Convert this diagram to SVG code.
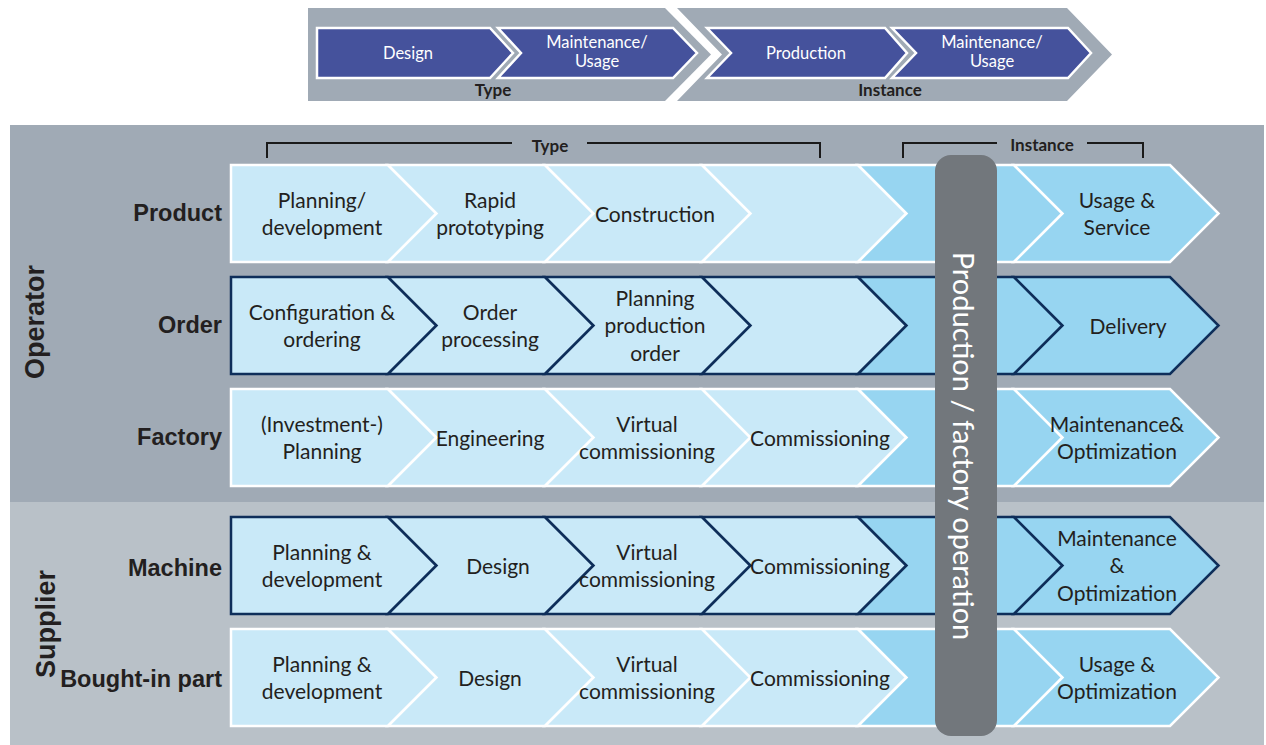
<svg xmlns="http://www.w3.org/2000/svg" width="1266" height="745" viewBox="0 0 1266 745">
<style>
.bg1{fill:#a0aab5}
.bg2{fill:#b9c1c8}
.top{fill:#45529c;stroke:#ffffff;stroke-width:2.5}
.wt{font-family:Lato,"Open Sans",sans-serif;font-size:16.5px;fill:#ffffff;text-anchor:middle}
.bl{font-family:Lato,"Open Sans",sans-serif;font-size:17px;font-weight:bold;fill:#231f20;text-anchor:middle}
.lt{fill:#c9e9f8}
.dk{fill:#97d5f1}
.ow{stroke:#ffffff;stroke-width:2.5;stroke-linejoin:miter}
.on{stroke:#0e2e5a;stroke-width:2.5;stroke-linejoin:miter}
.tx{font-family:Lato,"Open Sans",sans-serif;font-size:21px;fill:#231f20;text-anchor:middle}
.rl{font-family:"Liberation Sans",Arial,sans-serif;font-size:23.5px;font-weight:bold;fill:#231f20;text-anchor:end}
.gl{font-family:"Liberation Sans",Arial,sans-serif;font-size:27px;font-weight:bold;fill:#231f20;text-anchor:middle}
.br{fill:none;stroke:#1a1a1a;stroke-width:2}
</style>
<defs>
<path id="s1" d="M231,0 H388 L436.5,48.5 L388,97 H231 Z"/>
<path id="s2" d="M388,0 H545 L593.5,48.5 L545,97 H388 L436.5,48.5 Z"/>
<path id="s3" d="M545,0 H702 L750.5,48.5 L702,97 H545 L593.5,48.5 Z"/>
<path id="s4" d="M702,0 H858 L906.5,48.5 L858,97 H702 L750.5,48.5 Z"/>
<path id="s5" d="M858,0 H1014 L1062.5,48.5 L1014,97 H858 L906.5,48.5 Z"/>
<path id="s6" d="M1014,0 H1170 L1218.5,48.5 L1170,97 H1014 L1062.5,48.5 Z"/>
</defs>

<g id="banner">
<path class="bg1" d="M308,8 H665 L711,54.5 L665,101 H308 Z"/>
<path class="bg1" d="M677,8 H1067 L1112,54.5 L1067,101 H677 L722,54.5 Z"/>
<path class="top" d="M317,28 H490 L513,53 L490,78 H317 Z"/>
<path class="top" d="M498,28 H673 L697,53 L673,78 H498 L521,53 Z"/>
<path class="top" d="M707,28 H885 L907,53 L885,78 H707 L731,53 Z"/>
<path class="top" d="M892,28 H1068 L1091,53 L1068,78 H892 L916,53 Z"/>
<text class="wt" x="408" y="59">Design</text>
<text class="wt" x="597" y="48">Maintenance/</text>
<text class="wt" x="597" y="67">Usage</text>
<text class="wt" x="806" y="59">Production</text>
<text class="wt" x="992" y="48">Maintenance/</text>
<text class="wt" x="992" y="67">Usage</text>
<text class="bl" x="493" y="96">Type</text>
<text class="bl" x="890" y="96">Instance</text>
</g>

<g id="panels">
<rect class="bg1" x="10" y="125" width="1254" height="377"/>
<rect class="bg2" x="10" y="502" width="1254" height="243"/>
<text class="gl" transform="translate(44,322) rotate(-90)">Operator</text>
<text class="gl" transform="translate(55,624) rotate(-90)">Supplier</text>
</g>

<g id="brackets">
<path class="br" d="M267,158 V143 H512 M587,143 H820 V158"/>
<text class="bl" x="550" y="152">Type</text>
<path class="br" d="M903,158 V143 H997 M1087,143 H1143 V158"/>
<text class="bl" x="1042" y="151">Instance</text>
</g>

<g id="row-product" transform="translate(0,165)">
<use href="#s1" class="lt ow"/><use href="#s2" class="lt ow"/><use href="#s3" class="lt ow"/><use href="#s4" class="lt ow"/><use href="#s5" class="dk ow"/><use href="#s6" class="dk ow"/>
<text class="rl" x="222" y="56">Product</text>
<text class="tx" x="322" y="42.5">Planning/</text><text class="tx" x="322" y="69.5">development</text>
<text class="tx" x="490" y="42.5">Rapid</text><text class="tx" x="490" y="69.5">prototyping</text>
<text class="tx" x="655" y="57">Construction</text>
<text class="tx" x="1117" y="42.5">Usage &amp;</text><text class="tx" x="1117" y="69.5">Service</text>
</g>

<g id="row-order" transform="translate(0,277)">
<use href="#s1" class="lt on"/><use href="#s2" class="lt on"/><use href="#s3" class="lt on"/><use href="#s4" class="lt on"/><use href="#s5" class="dk on"/><use href="#s6" class="dk on"/>
<text class="rl" x="222" y="56">Order</text>
<text class="tx" x="322" y="42.5">Configuration &amp;</text><text class="tx" x="322" y="69.5">ordering</text>
<text class="tx" x="490" y="42.5">Order</text><text class="tx" x="490" y="69.5">processing</text>
<text class="tx" x="655" y="28.5">Planning</text><text class="tx" x="655" y="56">production</text><text class="tx" x="655" y="83.5">order</text>
<text class="tx" x="1128" y="57">Delivery</text>
</g>

<g id="row-factory" transform="translate(0,389)">
<use href="#s1" class="lt ow"/><use href="#s2" class="lt ow"/><use href="#s3" class="lt ow"/><use href="#s4" class="lt ow"/><use href="#s5" class="dk ow"/><use href="#s6" class="dk ow"/>
<text class="rl" x="222" y="56">Factory</text>
<text class="tx" x="322" y="42.5">(Investment-)</text><text class="tx" x="322" y="69.5">Planning</text>
<text class="tx" x="490" y="57">Engineering</text>
<text class="tx" x="647" y="42.5">Virtual</text><text class="tx" x="647" y="69.5">commissioning</text>
<text class="tx" x="820" y="57">Commissioning</text>
<text class="tx" x="1117" y="42.5">Maintenance&amp;</text><text class="tx" x="1117" y="69.5">Optimization</text>
</g>

<g id="row-machine" transform="translate(0,517)">
<use href="#s1" class="lt on"/><use href="#s2" class="lt on"/><use href="#s3" class="lt on"/><use href="#s4" class="lt on"/><use href="#s5" class="dk on"/><use href="#s6" class="dk on"/>
<text class="rl" x="222" y="59">Machine</text>
<text class="tx" x="322" y="42.5">Planning &amp;</text><text class="tx" x="322" y="69.5">development</text>
<text class="tx" x="498" y="57">Design</text>
<text class="tx" x="647" y="42.5">Virtual</text><text class="tx" x="647" y="69.5">commissioning</text>
<text class="tx" x="820" y="57">Commissioning</text>
<text class="tx" x="1117" y="28.5">Maintenance</text><text class="tx" x="1117" y="56">&amp;</text><text class="tx" x="1117" y="83.5">Optimization</text>
</g>

<g id="row-boughtin" transform="translate(0,629)">
<use href="#s1" class="lt ow"/><use href="#s2" class="lt ow"/><use href="#s3" class="lt ow"/><use href="#s4" class="lt ow"/><use href="#s5" class="dk ow"/><use href="#s6" class="dk ow"/>
<text class="rl" x="222" y="58">Bought-in part</text>
<text class="tx" x="322" y="42.5">Planning &amp;</text><text class="tx" x="322" y="69.5">development</text>
<text class="tx" x="490" y="57">Design</text>
<text class="tx" x="647" y="42.5">Virtual</text><text class="tx" x="647" y="69.5">commissioning</text>
<text class="tx" x="820" y="57">Commissioning</text>
<text class="tx" x="1117" y="42.5">Usage &amp;</text><text class="tx" x="1117" y="69.5">Optimization</text>
</g>

<g id="production-bar">
<rect x="935" y="155" width="62" height="581" rx="16" ry="16" fill="#72777c"/>
<text transform="translate(953,446) rotate(90)" font-family="Lato, 'Open Sans', sans-serif" font-size="29" fill="#ffffff" text-anchor="middle">Production / factory operation</text>
</g>
</svg>
